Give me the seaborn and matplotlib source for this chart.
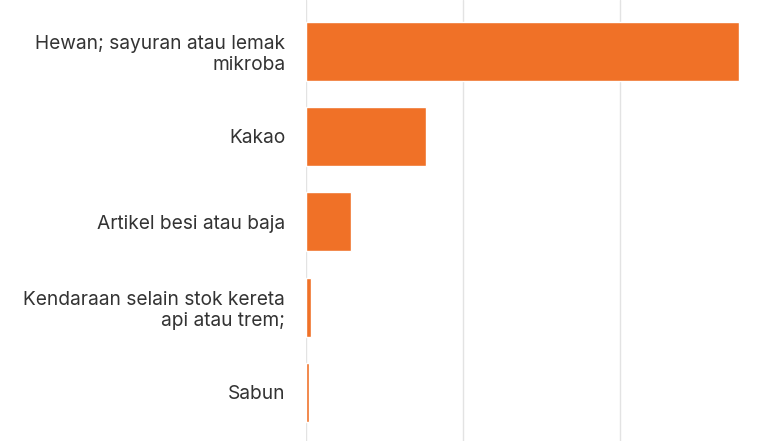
import matplotlib
matplotlib.use("Agg")
import pandas as pd
import seaborn as sb
from matplotlib import pyplot as plt

# data
categories = [
    "Hewan; sayuran atau lemak\nmikroba",
    "Kakao",
    "Artikel besi atau baja",
    "Kendaraan selain stok kereta\napi atau trem;",
    "Sabun",
]
values = [2.76, 0.762, 0.289, 0.034, 0.02]

df = pd.DataFrame({"kategori": categories, "nilai": values})

sb.set_style("white")
plt.rcParams["font.family"] = ["Inter", "DejaVu Sans"]

fig = plt.figure(figsize=(7.7, 4.41), dpi=100)
ax = fig.add_axes([306 / 770, 0, 1 - 306 / 770, 1])

sb.barplot(data=df, x="nilai", y="kategori", color="#F07127", saturation=1,
           width=0.69, ax=ax, zorder=3)

ax.set_xlim(0, 464 / 157)
ax.set_ylim(4.57, -0.60)
ax.set_xticks([0, 1, 2])
ax.xaxis.grid(True, color="#e3e3e3", lw=1, zorder=0)
ax.tick_params(axis="x", length=0, labelbottom=False)
ax.tick_params(axis="y", length=0, pad=15)
for lab in ax.get_yticklabels():
    lab.set_fontsize(13.8)
    lab.set_color("#333333")
    lab.set_linespacing(1.2)
ax.set_xlabel("")
ax.set_ylabel("")
for s in ax.spines.values():
    s.set_visible(False)

fig.savefig("out.png", dpi=100)
